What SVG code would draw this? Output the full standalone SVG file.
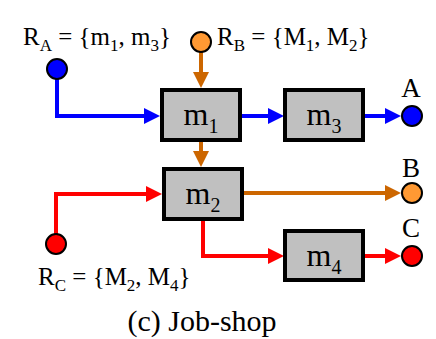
<svg xmlns="http://www.w3.org/2000/svg" width="436" height="339" viewBox="0 0 436 339">
<defs>
<style>
text{font-family:"Liberation Serif","DejaVu Serif",serif;fill:#000}
.box{fill:#c0c0c0;stroke:#000;stroke-width:4}
.lbl{font-size:25px}
.end{font-size:27px}
.mt{font-size:32px}
.msub{font-size:20px}
.sub{font-size:17px}
.c{stroke:#000;stroke-width:2}
.blue{stroke:#0000ff}
.orange{stroke:#cc6600}
.red{stroke:#ff0000}
.conn path{fill:none;stroke-width:4}
</style>
<marker id="aB" markerUnits="userSpaceOnUse" markerWidth="16" markerHeight="16" refX="1" refY="8" orient="auto"><path d="M0,0 L16,8 L0,16 z" fill="#0000ff"/></marker>
<marker id="aO" markerUnits="userSpaceOnUse" markerWidth="16" markerHeight="16" refX="1" refY="8" orient="auto"><path d="M0,0 L16,8 L0,16 z" fill="#cc6600"/></marker>
<marker id="aR" markerUnits="userSpaceOnUse" markerWidth="16" markerHeight="16" refX="1" refY="8" orient="auto"><path d="M0,0 L16,8 L0,16 z" fill="#ff0000"/></marker>
</defs>
<rect width="436" height="339" fill="#fff"/>
<g id="connectors" class="conn">
<path class="blue" d="M57,79 V116 H145" marker-end="url(#aB)"/>
<path class="blue" d="M240,116 H269" marker-end="url(#aB)"/>
<path class="blue" d="M363,116 H386" marker-end="url(#aB)"/>
<path class="orange" d="M201,52 V73" marker-end="url(#aO)"/>
<path class="orange" d="M201,140 V152" marker-end="url(#aO)"/>
<path class="orange" d="M242,193 H386" marker-end="url(#aO)"/>
<path class="red" d="M56,234 V194 H147" marker-end="url(#aR)"/>
<path class="red" d="M203,219 V256 H269" marker-end="url(#aR)"/>
<path class="red" d="M363,256 H386" marker-end="url(#aR)"/>
</g>
<g id="m1"><rect class="box" x="162" y="90" width="78" height="50"/><text class="mt" x="201" y="125" text-anchor="middle">m<tspan class="msub" dy="8">1</tspan></text></g>
<g id="m3"><rect class="box" x="285" y="90" width="78" height="50"/><text class="mt" x="324" y="125" text-anchor="middle">m<tspan class="msub" dy="8">3</tspan></text></g>
<g id="m2"><rect class="box" x="164" y="169" width="78" height="50"/><text class="mt" x="203" y="204" text-anchor="middle">m<tspan class="msub" dy="8">2</tspan></text></g>
<g id="m4"><rect class="box" x="285" y="231" width="78" height="49"/><text class="mt" x="324" y="266" text-anchor="middle">m<tspan class="msub" dy="8">4</tspan></text></g>
<g id="RA"><circle class="c" cx="57" cy="69" r="10" fill="#0000ff"/><text class="lbl" x="23" y="45">R<tspan class="sub" dy="6">A</tspan><tspan dy="-6"> = {m</tspan><tspan class="sub" dy="6">1</tspan><tspan dy="-6">, m</tspan><tspan class="sub" dy="6">3</tspan><tspan dy="-6">}</tspan></text></g>
<g id="RB"><circle class="c" cx="201" cy="42" r="10" fill="#ff9933"/><text class="lbl" x="217" y="45">R<tspan class="sub" dy="6">B</tspan><tspan dy="-6"> = {M</tspan><tspan class="sub" dy="6">1</tspan><tspan dy="-6">, M</tspan><tspan class="sub" dy="6">2</tspan><tspan dy="-6">}</tspan></text></g>
<g id="RC"><circle class="c" cx="56" cy="244" r="10" fill="#ff0000"/><text class="lbl" x="38" y="285">R<tspan class="sub" dy="6">C</tspan><tspan dy="-6"> = {M</tspan><tspan class="sub" dy="6">2</tspan><tspan dy="-6">, M</tspan><tspan class="sub" dy="6">4</tspan><tspan dy="-6">}</tspan></text></g>
<g id="A"><circle class="c" cx="412" cy="116" r="10" fill="#0000ff"/><text class="end" x="411" y="97" text-anchor="middle">A</text></g>
<g id="B"><circle class="c" cx="412" cy="193" r="10" fill="#ff9933"/><text class="end" x="411" y="177" text-anchor="middle">B</text></g>
<g id="C"><circle class="c" cx="412" cy="256" r="10" fill="#ff0000"/><text class="end" x="411" y="237" text-anchor="middle">C</text></g>
<text x="202" y="331" font-size="30" text-anchor="middle">(c) Job-shop</text>
</svg>
